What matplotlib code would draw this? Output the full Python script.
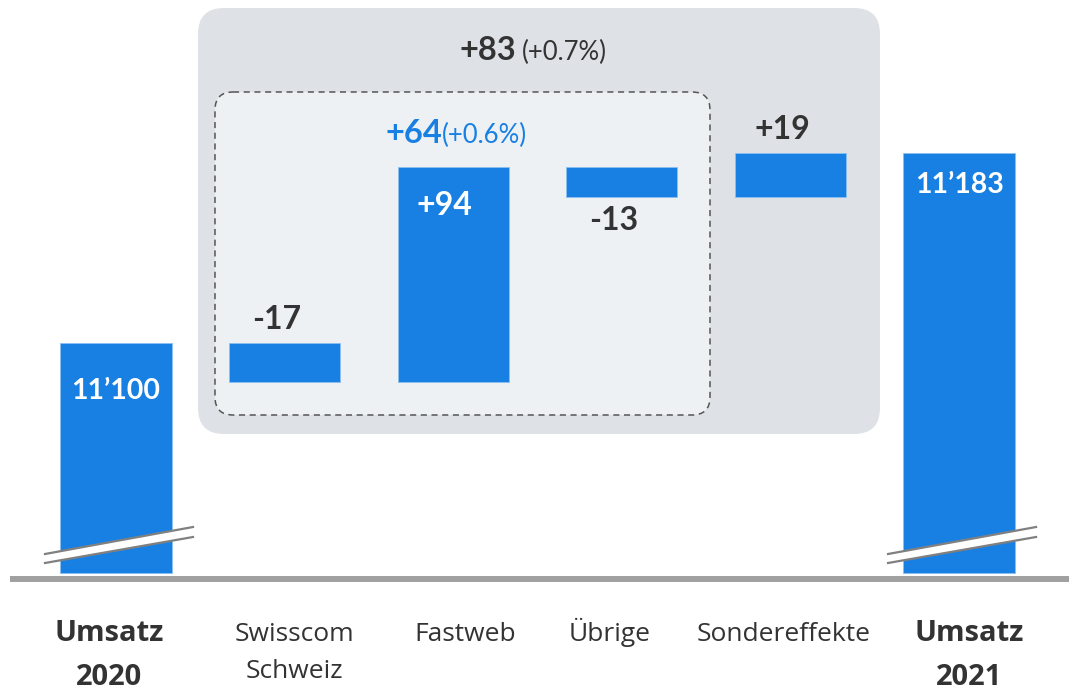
import matplotlib
matplotlib.use("Agg")
import matplotlib.pyplot as plt
from matplotlib.patches import FancyBboxPatch, Polygon
from matplotlib.transforms import blended_transform_factory
import numpy as np

plt.rcParams['font.family'] = ['Lato', 'DejaVu Sans']

# Data (CHF mio.)
categories = [["Umsatz", "2020"], ["Swisscom", "Schweiz"], ["Fastweb"],
              ["Übrige"], ["Sondereffekte"], ["Umsatz", "2021"]]
start_total = 11100
changes = [-17, 94, -13, 19]
end_total = 11183
axis_floor = 11000          # bars are cut (broken axis)
group_delta, group_pct = "+83", "(+0.7%)"
core_delta, core_pct = "+64", "(+0.6%)"

# Styles
blue = '#1880e3'
dark = '#333333'
W, H = 1069, 692

fig = plt.figure(figsize=(W / 100, H / 100), dpi=100)

# pixel overlay (for frames, baseline and labels)
bg = fig.add_axes([0, 0, 1, 1], zorder=0)
bg.set_xlim(0, W)
bg.set_ylim(H, 0)
bg.axis('off')

ax = fig.add_axes([0, 0, 1, 1], zorder=1)
ax.patch.set_visible(False)
ax.axis('off')
ax.set_xlim(-0.688, 5.652)
ax.set_ylim(10948.1, 11249.7)

# background frames
outer = FancyBboxPatch((198, 8), 682, 426, boxstyle="round,pad=0,rounding_size=26",
                       facecolor='#dee2e6', edgecolor='none')
bg.add_patch(outer)
inner = FancyBboxPatch((215, 92), 495, 323, boxstyle="round,pad=0,rounding_size=18",
                       facecolor='#edf1f4', edgecolor='#555555', linewidth=1.1,
                       linestyle=(0, (4, 3)))
bg.add_patch(inner)

# waterfall
levels = np.concatenate([[start_total], start_total + np.cumsum(changes)])
x = np.arange(len(categories))
bar_kw = dict(width=0.66, color=blue, edgecolor='#8cc0f2', linewidth=0.6, zorder=3)

ax.bar(x[0], start_total - axis_floor, bottom=axis_floor, **bar_kw)
ax.bar(x[-1], end_total - axis_floor, bottom=axis_floor, **bar_kw)
bottoms = np.minimum(levels[:-1], levels[1:])
ax.bar(x[1:-1], np.abs(changes), bottom=bottoms, **bar_kw)

# baseline
bg.plot([10, W], [579, 579], color='#a0a0a0', lw=4.3, solid_capstyle='butt', zorder=2)

# axis-break marks on the total bars
pix = bg.transData
for cx in (x[0], x[-1]):
    xc = ax.transData.transform((cx, 0))[0]
    x0, x1 = xc - 71, xc + 77
    yu0, yu1, yl0, yl1 = 554, 527, 563, 537
    band = Polygon([(x0, yu0), (x1, yu1), (x1, yl1), (x0, yl0)], closed=True,
                   facecolor='white', edgecolor='none', transform=pix, zorder=5)
    ax.add_patch(band)
    ax.plot([x0, x1], [yu0, yu1], color='#808080', lw=1.6, transform=pix, zorder=6)
    ax.plot([x0, x1], [yl0, yl1], color='#808080', lw=1.6, transform=pix, zorder=6)

# value labels
fmt_total = lambda v: f"{v // 1000}\u2019{v % 1000:03d}"
ax.annotate(fmt_total(start_total), (x[0], start_total), xytext=(0, -34),
            textcoords='offset points', ha='center', va='center',
            fontsize=20.5, fontweight='bold', color='white', zorder=7)
ax.annotate(fmt_total(end_total), (x[-1], end_total), xytext=(0, -23),
            textcoords='offset points', ha='center', va='center',
            fontsize=20.5, fontweight='bold', color='white', zorder=7)

placement = ['above', 'inside', 'below', 'above']
for i, (c, p) in enumerate(zip(changes, placement)):
    top = max(levels[i], levels[i + 1])
    bot = min(levels[i], levels[i + 1])
    if p == 'above':
        xy, dy, col = (x[i + 1], top), 17, dark
    elif p == 'inside':
        xy, dy, col = (x[i + 1], top), -28, 'white'
    else:
        xy, dy, col = (x[i + 1], bot), -17, dark
    ax.annotate(f"{c:+d}", xy, xytext=(-6, dy), textcoords='offset points',
                ha='center', va='center', fontsize=23, fontweight='bold',
                color=col, zorder=7)

# group totals
bg.text(516, 60, group_delta, ha='right', va='baseline', fontsize=23.5,
        fontweight='bold', color=dark)
bg.text(522, 60, group_pct, ha='left', va='baseline', fontsize=18.5, color=dark)
bg.text(442, 143, core_delta, ha='right', va='baseline', fontsize=23.5,
        fontweight='bold', color=blue)
bg.text(442, 143, core_pct, ha='left', va='baseline', fontsize=18.5, color=blue)

# category labels
lab_tr = blended_transform_factory(ax.transData, bg.transData)
label_dx = [-0.04, 0.06, 0.07, -0.07, -0.04, 0.06]
for i, lines in enumerate(categories):
    bold = lines[0] == "Umsatz"
    step = 44 if bold else 37
    for j, t in enumerate(lines):
        bg.text(x[i] + label_dx[i], 641 + j * step, t, transform=lab_tr,
                ha='center', va='baseline', color=dark,
                family=['Open Sans', 'DejaVu Sans'],
                fontsize=21 if bold else 19,
                fontweight='bold' if bold else 'normal')

fig.savefig('out.png', dpi=100)
